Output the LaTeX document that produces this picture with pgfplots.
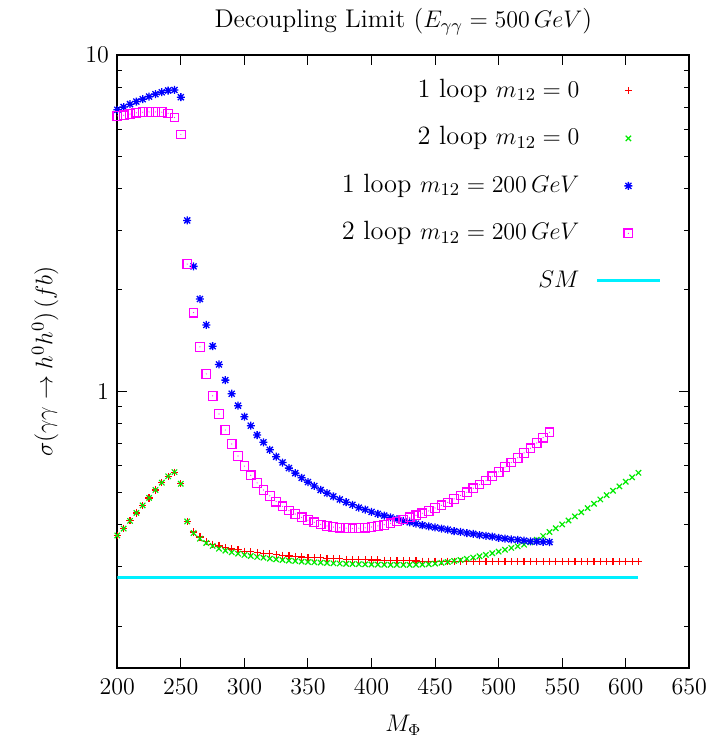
\documentclass[12pt,border=0pt]{standalone}
\usepackage{pgfplots}
\pgfplotsset{compat=1.18}
\usepackage{pgfplotstable}

\definecolor{gpred}{RGB}{255,0,0}
\definecolor{gpgreen}{RGB}{0,235,0}
\definecolor{gpblue}{RGB}{0,0,255}
\definecolor{gpmagenta}{RGB}{255,0,255}
\definecolor{gpcyan}{RGB}{0,240,255}

\pgfdeclareplotmark{gpstar}{%
  \pgfpathmoveto{\pgfqpoint{-\pgfplotmarksize}{0pt}}\pgfpathlineto{\pgfqpoint{\pgfplotmarksize}{0pt}}%
  \pgfpathmoveto{\pgfqpoint{0pt}{-\pgfplotmarksize}}\pgfpathlineto{\pgfqpoint{0pt}{\pgfplotmarksize}}%
  \pgfpathmoveto{\pgfqpoint{-.75\pgfplotmarksize}{-.75\pgfplotmarksize}}\pgfpathlineto{\pgfqpoint{.75\pgfplotmarksize}{.75\pgfplotmarksize}}%
  \pgfpathmoveto{\pgfqpoint{-.75\pgfplotmarksize}{.75\pgfplotmarksize}}\pgfpathlineto{\pgfqpoint{.75\pgfplotmarksize}{-.75\pgfplotmarksize}}%
  \pgfusepathqstroke}
\pgfdeclareplotmark{gpbox}{%
  \pgfpathrectangle{\pgfqpoint{-\pgfplotmarksize}{-\pgfplotmarksize}}{\pgfqpoint{2\pgfplotmarksize}{2\pgfplotmarksize}}%
  \pgfusepathqstroke
  \pgfpathcircle{\pgfpointorigin}{0.3pt}\pgfusepathqfill}

\pgfplotstableread{
x y
200 0.372
205 0.390
210 0.411
215 0.434
220 0.457
225 0.481
230 0.508
235 0.534
240 0.558
245 0.574
250 0.530
255 0.4095
260 0.381
265 0.368
270 0.357
275 0.350
280 0.346
285 0.342
290 0.339
295 0.337
300 0.334
305 0.333
310 0.331
315 0.329
320 0.328
325 0.326
330 0.325
335 0.323
340 0.322
345 0.321
350 0.320
355 0.3195
360 0.319
365 0.318
370 0.3175
375 0.317
380 0.316
385 0.3155
390 0.315
395 0.3148
400 0.3145
405 0.3142
410 0.314
415 0.3135
420 0.313
425 0.3128
430 0.3125
435 0.3123
440 0.312
445 0.3119
450 0.3118
455 0.3117
460 0.3116
465 0.3115
470 0.3115
475 0.3114
480 0.3114
485 0.3113
490 0.3113
495 0.3112
500 0.3112
505 0.3111
510 0.3111
515 0.3110
520 0.3110
525 0.3109
530 0.3109
535 0.3108
540 0.3108
545 0.3107
550 0.3107
555 0.3107
560 0.3106
565 0.3106
570 0.3106
575 0.3106
580 0.3105
585 0.3105
590 0.3105
595 0.3105
600 0.3105
605 0.3105
610 0.3105
}\oneloopzero

\pgfplotstableread{
x y
200 0.372
205 0.390
210 0.411
215 0.434
220 0.457
225 0.481
230 0.508
235 0.534
240 0.558
245 0.574
250 0.530
255 0.4095
260 0.3781
265 0.3638
270 0.3532
275 0.3461
280 0.3398
285 0.3351
290 0.3314
295 0.3283
300 0.3254
305 0.3231
310 0.3209
315 0.3195
320 0.3173
325 0.3158
330 0.3144
335 0.3130
340 0.3123
345 0.3109
350 0.3102
355 0.3095
360 0.3088
365 0.3081
370 0.3074
375 0.3067
380 0.3062
385 0.3059
390 0.3055
395 0.3051
400 0.3047
405 0.3044
410 0.3042
415 0.3040
420 0.3040
425 0.3040
430 0.3041
435 0.3043
440 0.3046
445 0.3055
450 0.3067
455 0.3084
460 0.3102
465 0.3124
470 0.3145
475 0.3170
480 0.3196
485 0.3225
490 0.3255
495 0.3292
500 0.3330
505 0.3372
510 0.3414
515 0.3453
520 0.3492
525 0.3548
530 0.3613
535 0.3705
540 0.3807
545 0.3908
550 0.4011
555 0.4122
560 0.4237
565 0.4359
570 0.4486
575 0.4622
580 0.4760
585 0.4902
590 0.5050
595 0.5206
600 0.5370
605 0.5539
610 0.5713
}\twoloopzero

\pgfplotstableread{
x y
200 6.87
205 7.00
210 7.14
215 7.27
220 7.39
225 7.52
230 7.65
235 7.75
240 7.84
245 7.87
250 7.49
255 3.22
260 2.35
265 1.879
270 1.573
275 1.360
280 1.200
285 1.078
290 0.982
295 0.905
300 0.839
305 0.789
310 0.740
315 0.704
320 0.669
325 0.638
330 0.613
335 0.590
340 0.570
345 0.552
350 0.536
355 0.522
360 0.508
365 0.497
370 0.486
375 0.476
380 0.467
385 0.459
390 0.450
395 0.444
400 0.437
405 0.431
410 0.426
415 0.421
420 0.416
425 0.411
430 0.407
435 0.403
440 0.399
445 0.396
450 0.393
455 0.390
460 0.387
465 0.383
470 0.381
475 0.378
480 0.376
485 0.373
490 0.371
495 0.369
500 0.366
505 0.364
510 0.362
515 0.361
520 0.359
525 0.357
530 0.3565
535 0.356
540 0.3555
}\oneloopmm

\pgfplotstableread{
x y
200 6.59
205 6.62
210 6.67
215 6.73
220 6.76
225 6.77
230 6.77
235 6.76
240 6.70
245 6.52
250 5.80
255 2.387
260 1.712
265 1.354
270 1.125
275 0.968
280 0.855
285 0.766
290 0.696
295 0.641
300 0.598
305 0.562
310 0.533
315 0.508
320 0.488
325 0.469
330 0.454
335 0.441
340 0.431
345 0.421
350 0.413
355 0.407
360 0.401
365 0.397
370 0.394
375 0.392
380 0.391
385 0.3905
390 0.391
395 0.392
400 0.394
405 0.397
410 0.400
415 0.404
420 0.409
425 0.415
430 0.421
435 0.427
440 0.433
445 0.440
450 0.449
455 0.457
460 0.466
465 0.478
470 0.489
475 0.500
480 0.514
485 0.527
490 0.542
495 0.558
500 0.575
505 0.594
510 0.613
515 0.633
520 0.655
525 0.676
530 0.701
535 0.727
540 0.754
}\twoloopmm

\pgfplotstableread{
x y
200 0.278
610 0.278
}\smdata

\begin{document}
\begin{tikzpicture}
\begin{axis}[
  name=ax,
  scale only axis,
  width=286pt, height=306.5pt,
  xmin=200, xmax=650,
  ymode=log, ymin=0.15, ymax=10,
  xtick={200,250,...,650},
  ytick={1,10}, yticklabels={1,10},
  minor ytick={0.2,0.3,0.4,0.5,0.6,0.7,0.8,0.9,2,3,4,5,6,7,8,9},
  tick align=inside,
  major tick length=5pt,
  minor tick length=2.5pt,
  every tick/.style={black, line width=0.5pt},
  axis line style={line width=0.9pt},
  xticklabel style={yshift=-1.5pt},
  title style={font=\fontsize{12.8pt}{15pt}\selectfont},
  title={Decoupling Limit ($E_{\gamma\gamma}=500\,GeV$)},
  xlabel={$M_\Phi$},
  xlabel style={yshift=-2pt},
  ylabel={$\sigma(\gamma\gamma\rightarrow h^0h^0)\,(fb)$},
  ylabel style={at={(axis description cs:-0.126,0.5)}, anchor=center, font=\fontsize{12.5pt}{15pt}\selectfont},
  legend plot pos=right,
  legend cell align=right,
  legend style={draw=none, fill=none, at={(1,1)}, anchor=north east,
    xshift=-10.75pt, yshift=-9pt, row sep=10.25pt, column sep=8pt,
    font=\fontsize{13.2pt}{16pt}\selectfont,
    nodes={inner sep=0pt, text height=10pt, text depth=3.5pt}},
  gpleg/.style={legend image code/.code={%
    \draw[mark repeat=2,mark phase=2,##1] plot coordinates {(0pt,0pt) (15.75pt,0pt) (31.5pt,0pt)};}},
]
\addplot[only marks, mark=+, mark size=1.8pt, color=gpred, line width=0.6pt, gpleg] table[x=x,y=y] {\oneloopzero};
\addlegendentry{1 loop $m_{12}=0$}
\addplot[only marks, mark=x, mark size=1.9pt, color=gpgreen, line width=0.6pt, gpleg] table[x=x,y=y] {\twoloopzero};
\addlegendentry{2 loop $m_{12}=0$}
\addplot[only marks, mark=gpstar, mark size=2pt, color=gpblue, line width=0.65pt, gpleg] table[x=x,y=y] {\oneloopmm};
\addlegendentry{1 loop $m_{12}=200\,GeV$}
\addplot[only marks, mark=gpbox, mark size=2.15pt, color=gpmagenta, line width=0.6pt, gpleg] table[x=x,y=y] {\twoloopmm};
\addlegendentry{2 loop $m_{12}=200\,GeV$}
\addplot[no marks, color=gpcyan, line width=1.5pt, gpleg] table[x=x,y=y] {\smdata};
\addlegendentry{$SM$}
\end{axis}
\pgfresetboundingbox
\path ([shift={(-58.65pt,-37pt)}]ax.south west) rectangle ([shift={(15.25pt,27.5pt)}]ax.north east);
\end{tikzpicture}
\end{document}
